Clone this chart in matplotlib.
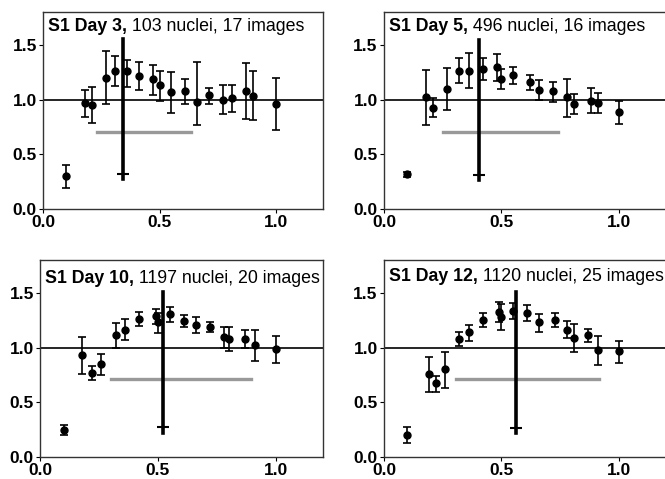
import matplotlib
matplotlib.use("Agg")
import matplotlib.pyplot as plt
import numpy as np

plt.rcParams['font.family'] = ['Liberation Sans', 'DejaVu Sans']

# panel titles
title_bold = ["S1 Day 3,", "S1 Day 5,", "S1 Day 10,", "S1 Day 12,"]
title_rest = [" 103 nuclei, 17 images", " 496 nuclei, 16 images",
              " 1197 nuclei, 20 images", " 1120 nuclei, 25 images"]

# S1 Day 3
day3_x = [0.10, 0.18, 0.21, 0.27, 0.31, 0.36, 0.41, 0.47, 0.50, 0.55, 0.61, 0.66, 0.71, 0.77, 0.81, 0.87, 0.90, 1.0]
day3_y = [0.30, 0.97, 0.95, 1.20, 1.26, 1.26, 1.215, 1.185, 1.13, 1.065, 1.075, 0.975, 1.04, 1.0, 1.01, 1.075, 1.035, 0.96]
day3_hi = [0.405, 1.09, 1.11, 1.44, 1.40, 1.365, 1.34, 1.315, 1.265, 1.25, 1.185, 1.345, 1.105, 1.13, 1.135, 1.33, 1.26, 1.195]
day3_lo = [0.195, 0.84, 0.79, 0.96, 1.12, 1.11, 1.085, 1.045, 0.985, 0.875, 0.96, 0.77, 0.96, 0.865, 0.885, 0.825, 0.815, 0.725]

# S1 Day 5
day5_x = [0.10, 0.18, 0.21, 0.27, 0.32, 0.36, 0.42, 0.48, 0.50, 0.55, 0.62, 0.66, 0.72, 0.78, 0.81, 0.88, 0.91, 1.0]
day5_y = [0.32, 1.02, 0.925, 1.095, 1.265, 1.265, 1.28, 1.295, 1.19, 1.22, 1.16, 1.09, 1.075, 1.02, 0.96, 0.99, 0.97, 0.885]
day5_hi = [0.34, 1.27, 1.01, 1.285, 1.38, 1.425, 1.375, 1.42, 1.275, 1.295, 1.22, 1.18, 1.16, 1.185, 1.05, 1.105, 1.06, 0.99]
day5_lo = [0.295, 0.77, 0.84, 0.90, 1.15, 1.105, 1.18, 1.17, 1.095, 1.14, 1.09, 1.0, 0.98, 0.845, 0.865, 0.88, 0.88, 0.78]

# S1 Day 10
day10_x = [0.10, 0.18, 0.22, 0.26, 0.32, 0.36, 0.42, 0.49, 0.50, 0.55, 0.61, 0.66, 0.72, 0.78, 0.80, 0.87, 0.91, 1.0]
day10_y = [0.25, 0.93, 0.765, 0.85, 1.115, 1.165, 1.26, 1.285, 1.235, 1.305, 1.245, 1.205, 1.19, 1.10, 1.08, 1.08, 1.02, 0.99]
day10_hi = [0.29, 1.10, 0.83, 0.945, 1.225, 1.265, 1.325, 1.35, 1.32, 1.375, 1.295, 1.275, 1.235, 1.19, 1.19, 1.16, 1.16, 1.11]
day10_lo = [0.20, 0.755, 0.70, 0.75, 1.0, 1.065, 1.195, 1.215, 1.135, 1.235, 1.19, 1.13, 1.145, 1.0, 0.965, 1.0, 0.88, 0.86]

# S1 Day 12
day12_x = [0.10, 0.19, 0.22, 0.26, 0.32, 0.36, 0.42, 0.49, 0.50, 0.55, 0.61, 0.66, 0.73, 0.78, 0.81, 0.87, 0.91, 1.0]
day12_y = [0.20, 0.755, 0.675, 0.80, 1.075, 1.14, 1.255, 1.325, 1.28, 1.335, 1.315, 1.23, 1.255, 1.16, 1.085, 1.115, 0.98, 0.965]
day12_hi = [0.27, 0.91, 0.74, 0.96, 1.14, 1.21, 1.32, 1.415, 1.40, 1.405, 1.39, 1.305, 1.32, 1.24, 1.215, 1.17, 1.105, 1.06]
day12_lo = [0.13, 0.595, 0.595, 0.635, 1.01, 1.06, 1.185, 1.235, 1.16, 1.265, 1.24, 1.145, 1.185, 1.085, 0.955, 1.05, 0.84, 0.855]

# thick vertical marker (with small cross) and grey horizontal bar
vline_x = [0.342, 0.403, 0.522, 0.563]
vline_top = [1.555, 1.54, 1.505, 1.51]
vline_bot = [0.27, 0.265, 0.22, 0.22]
cross_y = [0.32, 0.31, 0.27, 0.265]
gray_x0 = [0.23, 0.25, 0.30, 0.305]
gray_x1 = [0.633, 0.74, 0.895, 0.915]
gray_y = [0.703, 0.703, 0.712, 0.709]

panels = [(day3_x, day3_y, day3_lo, day3_hi),
          (day5_x, day5_y, day5_lo, day5_hi),
          (day10_x, day10_y, day10_lo, day10_hi),
          (day12_x, day12_y, day12_lo, day12_hi)]

# axes rectangles (figure fraction)
rects = [[0.0647, 0.5637, 0.4211, 0.4113],
         [0.5774, 0.5637, 0.4240, 0.4113],
         [0.0602, 0.0459, 0.4256, 0.4113],
         [0.5774, 0.0459, 0.4240, 0.4113]]
title_y = [0.905, 0.905, 0.885, 0.893]

fig = plt.figure(figsize=(6.65, 4.79), dpi=100)

for i in range(4):
    ax = fig.add_axes(rects[i])
    x, y, lo, hi = [np.array(a) for a in panels[i]]
    ax.axhline(1.0, color='black', lw=1.2, zorder=1)
    ax.plot([gray_x0[i], gray_x1[i]], [gray_y[i], gray_y[i]], color='#999999', lw=2.4, zorder=2)
    ax.plot([vline_x[i], vline_x[i]], [vline_bot[i], vline_top[i]], color='black', lw=2.6, zorder=3)
    ax.plot([vline_x[i]], [cross_y[i]], marker='_', ms=9, mew=1.5, color='black', zorder=3)
    ax.errorbar(x, y, yerr=[y - lo, hi - y], fmt='o', color='black', ms=5,
                elinewidth=1.2, capsize=3, capthick=1.2, zorder=4)

    ax.set_xlim(0, 1.2)
    ax.set_ylim(0, 1.8)
    ax.set_xticks([0.0, 0.5, 1.0])
    ax.set_yticks([0.0, 0.5, 1.0, 1.5])
    ax.set_xticklabels(['0.0', '0.5', '1.0'])
    ax.set_yticklabels(['0.0', '0.5', '1.0', '1.5'])
    ax.tick_params(direction='out', length=3, width=0.8, pad=1.5, labelsize=12.5)
    for lab in ax.get_xticklabels() + ax.get_yticklabels():
        lab.set_fontweight('bold')
    for sp in ax.spines.values():
        sp.set_color('#333333')
        sp.set_linewidth(1.0)

    t1 = ax.text(0.018, title_y[i], title_bold[i], transform=ax.transAxes,
                 fontsize=12.8, fontweight='bold', va='baseline', ha='left')
    ax.annotate(title_rest[i], xy=(1, 0), xycoords=t1, va='bottom', ha='left', fontsize=12.8)

fig.savefig('out.png', dpi=100)
